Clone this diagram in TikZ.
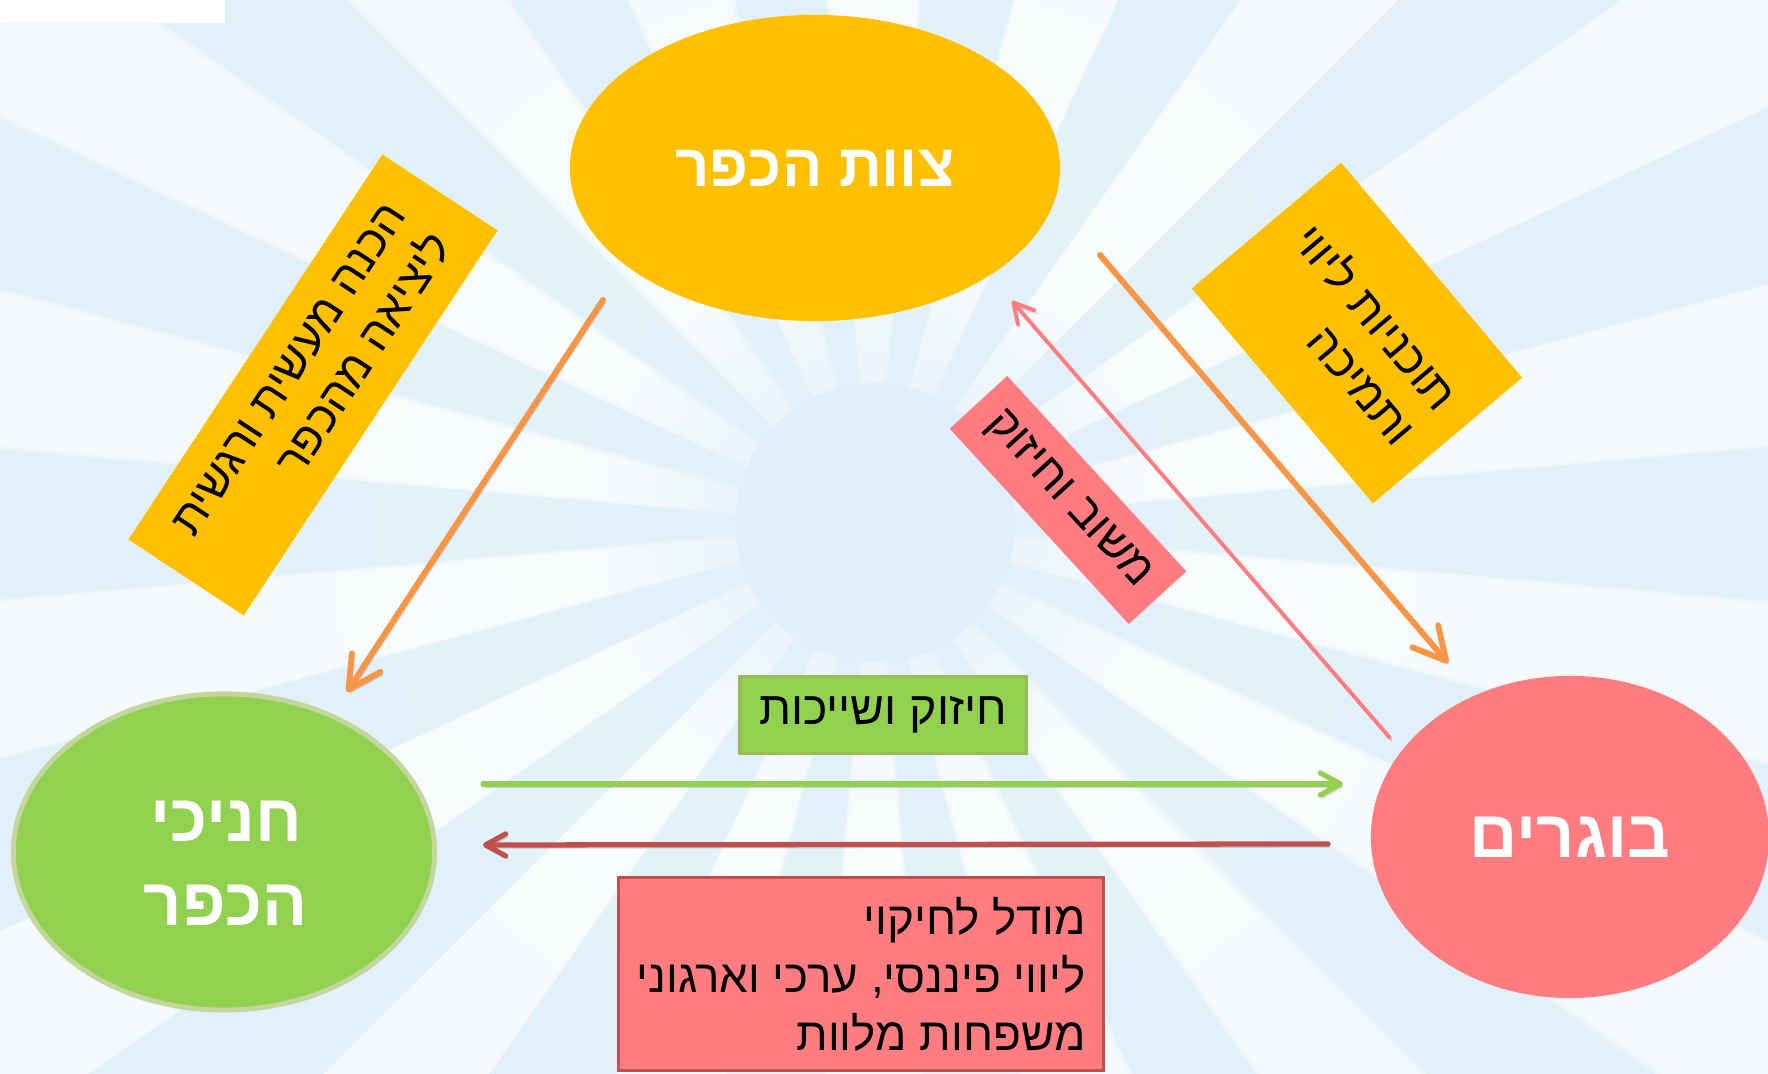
\documentclass[tikz,border=0pt]{standalone}
\usepackage{fontspec}
\usetikzlibrary{shapes.geometric,arrows.meta,fadings}
\newfontfamily\hebfont[Script=Hebrew]{Liberation Sans}
\TeXXeTstate=1
\newcommand{\rl}[1]{\beginR #1\endR}
\tikzfading[name=rayfade,inner color=transparent!0,outer color=transparent!100]
\tikzfading[name=hubfade,inner color=transparent!0,outer color=transparent!100]
\definecolor{sunny}{HTML}{FFC000}
\definecolor{leaf}{HTML}{92D050}
\definecolor{leafrim}{HTML}{C3D69B}
\definecolor{leafedge}{HTML}{9BBB59}
\definecolor{rose}{HTML}{FF7C80}
\definecolor{brick}{HTML}{C0504D}
\definecolor{tang}{HTML}{F79646}
\definecolor{skyin}{HTML}{DCEEF9}
\definecolor{skyout}{HTML}{D2E8F5}
\definecolor{hub}{HTML}{DFF0FA}

\begin{document}
\begin{tikzpicture}[x=0.01cm,y=-0.01cm,
    bubble/.style={ellipse,inner sep=0pt,text=white,align=center,
      font=\hebfont\bfseries\fontsize{19}{24}\selectfont},
    note/.style={inner sep=0pt,align=right,text=black,
      font=\hebfont\fontsize{13}{15.6}\selectfont},
    shadowed/.style={preaction={draw=black,opacity=0.15,
      transform canvas={shift={(0.02cm,-0.03cm)}}}},
    flow/.style={shadowed,line cap=round,
      -{Straight Barb[round,length=0.2cm,width=0.22cm]}},
    bigflow/.style={shadowed,line cap=round,
      -{Straight Barb[round,length=0.32cm,width=0.34cm]}}]
  \useasboundingbox (0,0) rectangle (1768,1074);
  \begin{scope}
    \clip (0,0) rectangle (1768,1074);
    \shade[inner color=skyin,outer color=skyout] (875,523) circle (2000);
    \fill[white,opacity=0.8,path fading=rayfade]
      \foreach \a in {-90,-70,...,250} {(875,523) -- +({\a-5}:1600) -- +({\a+5}:1600) -- cycle};
    \fill[white,opacity=0.45]
      \foreach \a in {-90,-70,...,250} {(875,523) -- +({\a-5}:1600) -- +({\a+5}:1600) -- cycle};
    \fill[white,opacity=0.25] (875,523) circle (2000);
    \fill[hub] (875,523) circle (140);
    \fill[hub,path fading=hubfade] (875,523) circle (300);
    \fill[white] (0,0) rectangle (225,23);
  \end{scope}

  \node[bubble,fill=sunny,minimum width=4.9cm,minimum height=3.06cm,
    font=\hebfont\bfseries\fontsize{17}{20}\selectfont] (team) at (815,168) {\rl{צוות הכפר}};
  \node[bubble,fill=leaf,draw=leafrim,line width=1.4pt,minimum width=4.21cm,minimum height=3.16cm] (pupils) at (224,852) {};
  \node[bubble] (pupilstext) at (226,863) {\rl{חניכי}\\\rl{הכפר}};
  \node[bubble,fill=rose,minimum width=3.98cm,minimum height=3.22cm] (alumni) at (1570,837) {\rl{בוגרים}};

  \node[note,fill=sunny,rotate=56.6,minimum width=4.61cm,minimum height=1.38cm] (prep) at (313,385) {\rl{הכנה מעשית ורגשית}\\\rl{ליציאה מהכפר}};
  \node[note,fill=sunny,rotate=-49.9,minimum width=2.81cm,minimum height=1.95cm] (support) at (1357,333) {\rl{תוכניות ליווי}\\\rl{ותמיכה}};
  \node[note,fill=rose,rotate=-47.5,minimum width=2.65cm,minimum height=0.78cm] (feedback) at (1068,500) {\rl{משוב וחיזוק}};
  \node[note,fill=leaf,draw=leafedge,line width=0.9pt,minimum width=2.86cm,minimum height=0.77cm,
    font=\hebfont\fontsize{13.2}{16}\selectfont] (belong) at (883,715) {\rl{חיזוק ושייכות}};
  \node[note,fill=rose,draw=brick,line width=0.9pt,minimum width=4.85cm,minimum height=1.93cm,
    font=\hebfont\fontsize{13}{16.5}\selectfont] (model) at (861,974) {\rl{מודל לחיקוי}\\\rl{ליווי פיננסי, ערכי וארגוני}\\\rl{משפחות מלוות}};

  \coordinate (teamout) at (603,300);
  \coordinate (pupilsin) at (347,692);
  \coordinate (teamout2) at (1100,255);
  \coordinate (alumniin) at (1448,663);
  \coordinate (alumniout) at (1390,738);
  \coordinate (teamin) at (1012,301);
  \coordinate (pupilsout) at (483,784);
  \coordinate (alumniin2) at (1343,784);
  \coordinate (alumniout2) at (1328,844);
  \coordinate (pupilsin2) at (483,845);

  \draw[bigflow,tang,line width=1.7pt] (teamout) -- (pupilsin);
  \draw[bigflow,tang,line width=1.7pt] (teamout2) -- (alumniin);
  \draw[flow,rose,line width=1.1pt] (alumniout) -- (teamin);
  \draw[flow,leaf,line width=1.5pt] (pupilsout) -- (alumniin2);
  \draw[flow,brick,line width=1.5pt] (alumniout2) -- (pupilsin2);
\end{tikzpicture}
\end{document}
